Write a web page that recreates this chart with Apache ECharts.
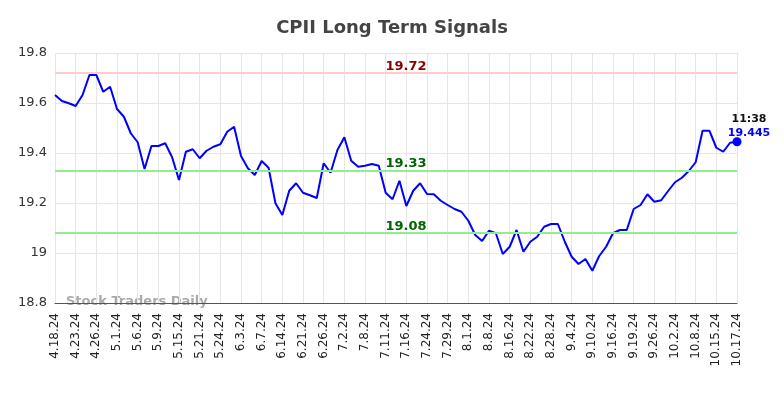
<!DOCTYPE html>
<html lang="en">
<head>
    <meta charset="utf-8">
    <title>CPII Long Term Signals</title>
    <script src="https://cdn.jsdelivr.net/npm/echarts@6/dist/echarts.min.js"></script>
    <style type="text/css">
        html, body {
            width: 100%;
            height: 100%;
            margin: 0px;
            padding: 0px;
            background: #fff;
        }

        #main {
            width: 784px;
            height: 398px;
        }
    </style>
</head>
<body>
<div id="main"></div>
<script>
    // x 轴的日期（每 3 个点一个标签）
    var dates = [
        '4.18.24', '', '', '4.23.24', '', '', '4.26.24', '', '', '5.1.24', '', '', '5.6.24', '', '',
        '5.9.24', '', '', '5.15.24', '', '', '5.21.24', '', '', '5.24.24', '', '', '6.3.24', '', '',
        '6.7.24', '', '', '6.14.24', '', '', '6.21.24', '', '', '6.26.24', '', '', '7.2.24', '', '',
        '7.8.24', '', '', '7.11.24', '', '', '7.16.24', '', '', '7.24.24', '', '', '7.29.24', '', '',
        '8.1.24', '', '', '8.8.24', '', '', '8.16.24', '', '', '8.22.24', '', '', '8.28.24', '', '',
        '9.4.24', '', '', '9.10.24', '', '', '9.16.24', '', '', '9.19.24', '', '', '9.26.24', '', '',
        '10.2.24', '', '', '10.8.24', '', '', '10.15.24', '', '', '10.17.24'
    ];

    var prices = [
        19.632, 19.608, 19.599, 19.588, 19.632, 19.712, 19.712, 19.645, 19.665, 19.576,
        19.545, 19.479, 19.443, 19.336, 19.428, 19.428, 19.439, 19.383, 19.292, 19.405,
        19.415, 19.379, 19.409, 19.425, 19.435, 19.485, 19.505, 19.388, 19.339, 19.312,
        19.368, 19.341, 19.199, 19.152, 19.249, 19.279, 19.241, 19.231, 19.220, 19.359,
        19.321, 19.412, 19.463, 19.369, 19.345, 19.349, 19.356, 19.349, 19.241, 19.215,
        19.289, 19.188, 19.249, 19.279, 19.236, 19.235, 19.209, 19.192, 19.176, 19.165,
        19.129, 19.072, 19.048, 19.089, 19.079, 18.996, 19.025, 19.092, 19.005, 19.045,
        19.065, 19.105, 19.116, 19.116, 19.045, 18.985, 18.956, 18.976, 18.929, 18.988,
        19.025, 19.079, 19.092, 19.092, 19.176, 19.192, 19.235, 19.205, 19.211, 19.248,
        19.283, 19.301, 19.328, 19.363, 19.489, 19.489, 19.421, 19.405, 19.441, 19.445
    ];

    var resistance = [19.72];
    var supports = [19.33, 19.08];
    var lastTime = '11:38';
    var lastPrice = 19.445;

    var myChart = echarts.init(document.getElementById('main'));

    var markLines = [];
    resistance.forEach(function (v) {
        markLines.push({
            yAxis: v,
            lineStyle: {color: '#ffcccc', width: 2, type: 'solid'},
            label: {color: '#8b0000'}
        });
    });
    supports.forEach(function (v) {
        markLines.push({
            yAxis: v,
            lineStyle: {color: '#90ee90', width: 2, type: 'solid'},
            label: {color: '#006400'}
        });
    });

    var option = {
        backgroundColor: '#fff',
        animation: false,
        title: {
            text: 'CPII Long Term Signals',
            left: 'center',
            top: 14,
            textStyle: {
                fontFamily: 'DejaVu Sans',
                fontSize: 18,
                fontWeight: 'bold',
                color: '#444'
            }
        },
        grid: {
            left: 55,
            right: 47,
            top: 53,
            bottom: 95
        },
        xAxis: {
            type: 'category',
            data: dates,
            boundaryGap: false,
            axisLine: {lineStyle: {color: '#555', width: 1}},
            axisTick: {show: false},
            axisLabel: {
                interval: 2,
                rotate: 90,
                fontFamily: 'DejaVu Sans',
                fontSize: 12,
                color: '#222',
                margin: 10
            },
            splitLine: {
                show: true,
                interval: 2,
                lineStyle: {color: '#e6e6e6', width: 1}
            }
        },
        yAxis: {
            type: 'value',
            min: 18.8,
            max: 19.8,
            interval: 0.2,
            axisLine: {show: false},
            axisTick: {show: false},
            axisLabel: {
                fontFamily: 'DejaVu Sans',
                fontSize: 13,
                color: '#333',
                margin: 8
            },
            splitLine: {lineStyle: {color: '#e6e6e6', width: 1}}
        },
        graphic: [{
            type: 'text',
            left: 66,
            top: 295,
            style: {
                text: 'Stock Traders Daily',
                fill: '#aaa',
                font: 'bold 13px "DejaVu Sans"'
            }
        }],
        series: [{
            type: 'line',
            data: prices,
            showSymbol: false,
            lineStyle: {color: '#0000ff', width: 2},
            itemStyle: {color: '#0000ff'},
            markLine: {
                silent: true,
                symbol: 'none',
                label: {
                    show: true,
                    position: 'insideMiddleTop',
                    fontFamily: 'DejaVu Sans',
                    fontSize: 13,
                    fontWeight: 'bold',
                    distance: 0,
                    offset: [10, 0],
                    formatter: function (p) { return p.value.toFixed(2); }
                },
                data: markLines
            },
            z: 3
        }, {
            type: 'scatter',
            data: [[prices.length - 1, lastPrice]],
            symbolSize: 9,
            itemStyle: {color: '#0000ff', opacity: 1},
            label: {
                show: true,
                position: 'top',
                offset: [12, 8],
                formatter: '{t|' + lastTime + '}\n{v|' + lastPrice + '}',
                rich: {
                    t: {color: '#111', fontWeight: 'bold', fontSize: 11, fontFamily: 'DejaVu Sans', lineHeight: 14},
                    v: {color: '#0000ff', fontWeight: 'bold', fontSize: 11, fontFamily: 'DejaVu Sans', lineHeight: 14}
                }
            },
            z: 4
        }]
    };

    myChart.setOption(option);
</script>
</body>
</html>
